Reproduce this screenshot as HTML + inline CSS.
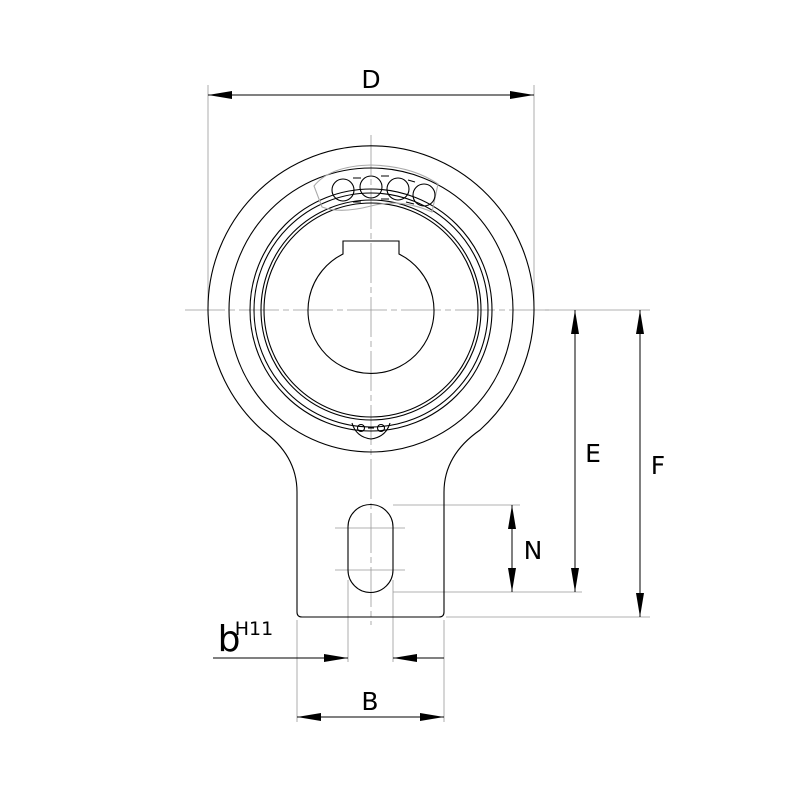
<!DOCTYPE html>
<html><head><style>body{margin:0;background:#fff}svg{display:block}</style></head><body>
<svg width="800" height="800" viewBox="0 0 800 800" xmlns="http://www.w3.org/2000/svg" font-family="DejaVu Sans, Liberation Sans, sans-serif">
<defs>
<marker id="a" viewBox="0 0 12 4" refX="12" refY="2" markerWidth="24" markerHeight="8" markerUnits="userSpaceOnUse" orient="auto-start-reverse"><path d="M0,0 L12,2 L0,4z" fill="#000"/></marker>
</defs>
<g fill="none" stroke="#999" stroke-width="0.8">
<line x1="371" y1="135" x2="371" y2="625" stroke-dasharray="40,4,6,4"/>
<line x1="185" y1="310" x2="550" y2="310" stroke-dasharray="40,4,6,4"/>
<line x1="335" y1="528" x2="405" y2="528"/>
<line x1="335" y1="570" x2="405" y2="570"/>
<line x1="208" y1="85" x2="208" y2="310"/>
<line x1="534" y1="85" x2="534" y2="310"/>
<line x1="545" y1="310" x2="650" y2="310"/>
<line x1="393" y1="505" x2="520" y2="505"/>
<line x1="393" y1="592" x2="582" y2="592"/>
<line x1="446" y1="617" x2="650" y2="617"/>
<line x1="297" y1="620" x2="297" y2="722"/>
<line x1="444" y1="620" x2="444" y2="722"/>
<line x1="348" y1="580" x2="348" y2="662"/>
<line x1="393" y1="580" x2="393" y2="662"/>
</g>
<g fill="none" stroke="#000" stroke-width="1">
<line x1="208" y1="95" x2="534" y2="95" marker-start="url(#a)" marker-end="url(#a)"/>
<line x1="575" y1="310" x2="575" y2="592" marker-start="url(#a)" marker-end="url(#a)"/>
<line x1="640" y1="310" x2="640" y2="617" marker-start="url(#a)" marker-end="url(#a)"/>
<line x1="512" y1="505" x2="512" y2="592" marker-start="url(#a)" marker-end="url(#a)"/>
<line x1="297" y1="717" x2="444" y2="717" marker-start="url(#a)" marker-end="url(#a)"/>
<line x1="213" y1="658" x2="348" y2="658" marker-end="url(#a)"/>
<line x1="444" y1="658" x2="393" y2="658" marker-end="url(#a)"/>
</g>
<g fill="none" stroke="#000" stroke-width="1.1">
<path d="M297,612 L297,492 Q297,455 262,430 A163,163 0 1 1 480,430 Q444,455 444,492 L444,612 Q444,617 439,617 L302,617 Q297,617 297,612Z"/>
<circle cx="371" cy="310" r="142"/>
<circle cx="371" cy="310" r="121"/>
<circle cx="371" cy="310" r="117"/>
<circle cx="371" cy="310" r="110"/>
<circle cx="371" cy="310" r="107"/>
<path d="M343,254 A63,63 0 1 0 399,254 L399,241 L343,241 Z"/>
<path d="M348,527 A22.5,22.5 0 0 1 393,527 L393,570 A22.5,22.5 0 0 1 348,570 Z"/>
<path d="M314,186 Q330,166 371,165 Q412,166 438,184 L432,212 Q400,198 371,206 Q340,214 322,207 Z" stroke="#aaa"/>
<circle cx="343" cy="190" r="11"/><circle cx="371" cy="187" r="11"/><circle cx="398" cy="189" r="11"/><circle cx="424" cy="195" r="11"/>
<path d="M353,178 L361,178 M353,202 L361,202 M381,176 L389,176 M381,199 L389,199 M408,180 L415,182 M406,202 L414,204"/>
<path d="M352,423 Q356,437 371,439 Q386,437 390,423"/>
<circle cx="361" cy="428" r="3.5"/><circle cx="381" cy="428" r="3.5"/>
<line x1="368" y1="428" x2="374" y2="428"/>
</g>
<g font-size="25" fill="#000" text-anchor="middle">
<text x="371" y="88">D</text>
<text x="593" y="462">E</text>
<text x="658" y="474">F</text>
<text x="533" y="559">N</text>
<text x="370" y="710">B</text>
<text x="229" y="651" font-size="36">b</text>
<text x="254" y="635" font-size="19">H11</text>
</g>
</svg>
</body></html>
